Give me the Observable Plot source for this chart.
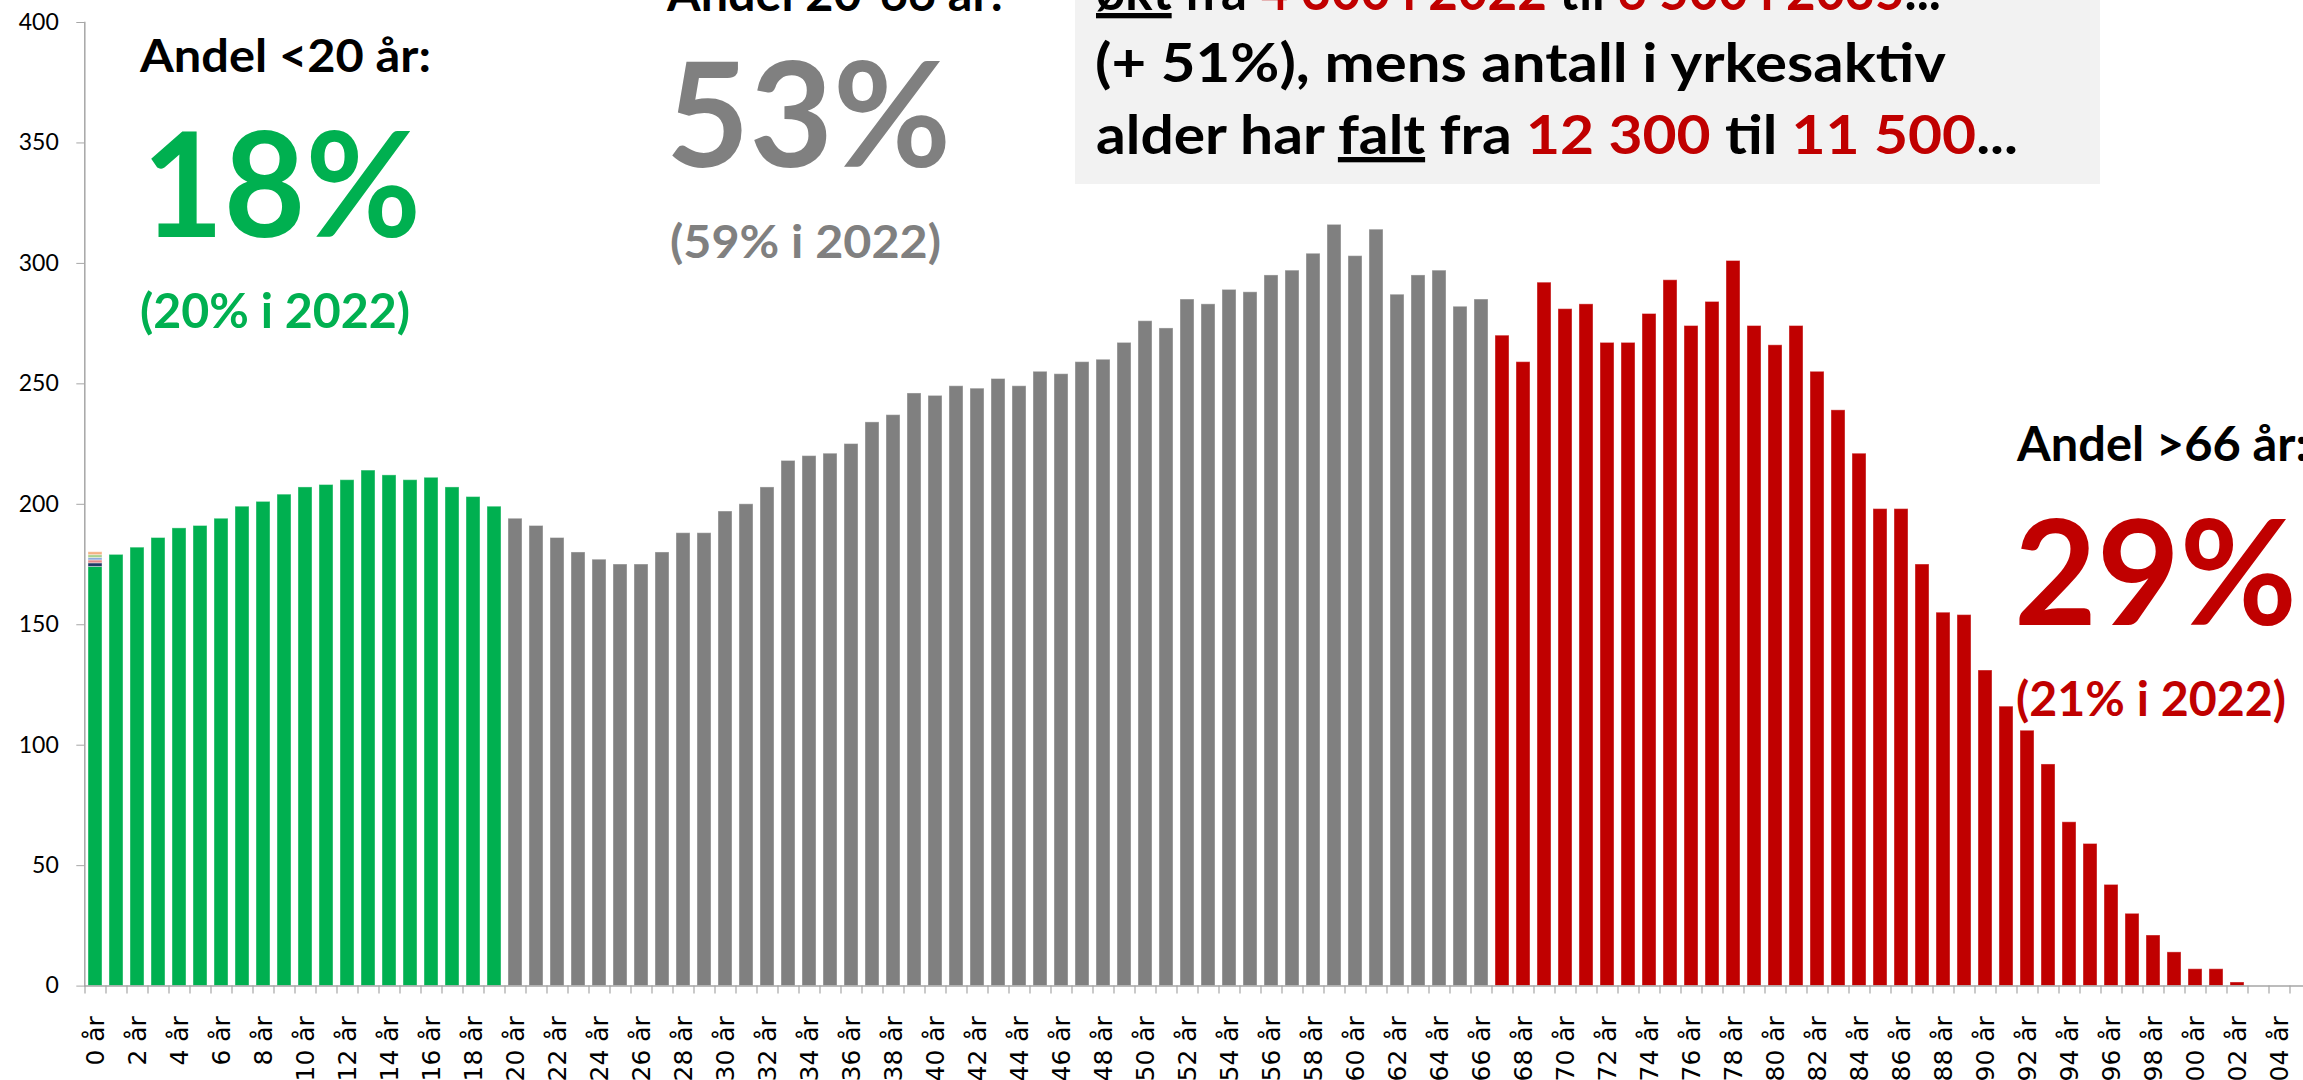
<!DOCTYPE html>
<html>
<head>
<meta charset="utf-8">
<script src="https://cdn.jsdelivr.net/npm/d3@7"></script>
<script src="https://cdn.jsdelivr.net/npm/@observablehq/plot@0.6"></script>
<style>
html, body { margin: 0; padding: 0; overflow: hidden; background: white; }
#chart svg { display: block; }
</style>
</head>
<body>
<div id="chart"></div>
<script>
// ---- Data ----
const ages = [0,1,2,3,4,5,6,7,8,9,10,11,12,13,14,15,16,17,18,19,20,21,22,23,24,25,26,27,28,29,
  30,31,32,33,34,35,36,37,38,39,40,41,42,43,44,45,46,47,48,49,50,51,52,53,54,55,56,57,58,59,
  60,61,62,63,64,65,66,67,68,69,70,71,72,73,74,75,76,77,78,79,80,81,82,83,84,85,86,87,88,89,
  90,91,92,93,94,95,96,97,98,99,100,101,102,103,104,105];

const population = [174,179,182,186,190,191,194,199,201,204,207,208,210,214,212,210,211,207,203,199,
  194,191,186,180,177,175,175,180,188,188,197,200,207,218,220,221,225,234,237,246,
  245,249,248,252,249,255,254,259,260,267,276,273,285,283,289,288,295,297,304,316,
  303,314,287,295,297,282,285,270,259,292,281,283,267,267,279,293,274,284,301,274,
  266,274,255,239,221,198,198,175,155,154,131,116,106,92,68,59,42,30,21,14,
  7,7,1.5,0,0,0];

const groupNames = ["Andel <20 år", "Andel 20-66 år", "Andel >66 år"];
const groupColors = ["#00B050", "#808080", "#C00000"];

// small extra series visible only on top of the "0 år" bar
const extraAge = 0;
const extraNames = ["Serie 2", "Serie 3", "Serie 4", "Serie 5", "Serie 6"];
const extraValues = [1.5, 1.2, 1.0, 1.2, 1.2];
const extraColors = ["#203864", "#E58A8A", "#8FAADC", "#A9D18E", "#F4B183"];

const yTicks = [0, 50, 100, 150, 200, 250, 300, 350, 400];
const labelAges = ages.filter(a => a % 2 === 0 && a <= 104);

// ---- Table ----
const colorOf = new Map([...groupNames.map((n, i) => [n, groupColors[i]]), ...extraNames.map((n, i) => [n, extraColors[i]])]);
const groupOf = a => a < 20 ? groupNames[0] : a <= 66 ? groupNames[1] : groupNames[2];
const rows = ages.map((a, i) => ({age: a, series: groupOf(a), value: population[i]}));
extraNames.forEach((n, i) => rows.push({age: extraAge, series: n, value: extraValues[i]}));

// ---- Layout ----
const W = 2303, H = 1080;
const mLeft = 84.3, mTop = 22, mBottom = 94.4;
const step = 21;
const mRight = W - (mLeft + step * ages.length); // plot area runs past the right edge (cropped)
const plotH = H - mTop - mBottom;
const tickUnits = 8 * 400 / plotH;

const chart = Plot.plot({
  width: W,
  height: H,
  marginLeft: mLeft,
  marginRight: mRight,
  marginTop: mTop,
  marginBottom: mBottom,
  style: {background: "white", fontFamily: "Lato, sans-serif", overflow: "hidden"},
  x: {type: "band", domain: ages, paddingInner: 0.35, paddingOuter: 0.175},
  y: {domain: [0, 400]},
  marks: [
    Plot.barY(rows, {x: "age", y: "value", z: "series", fill: d => colorOf.get(d.series),
      stroke: "white", strokeOpacity: 0.4, strokeWidth: 1}),
    Plot.ruleY([0], {stroke: "#A6A6A6", strokeWidth: 1.5}),
    Plot.frame({anchor: "left", stroke: "#A6A6A6", strokeWidth: 1.5}),
    Plot.ruleX(ages, {x: d => d, dx: -step / 2, y1: 0, y2: -tickUnits, stroke: "#A6A6A6", strokeWidth: 1.2}),
    Plot.axisY({ticks: yTicks, tickSize: 8, tickPadding: 18, stroke: "#A6A6A6", fill: "black",
      fontSize: 23, fontFamily: "Lato, sans-serif", label: null}),
    Plot.axisX({ticks: labelAges, tickFormat: d => `${d} år`, tickRotate: -90, tickSize: 0, tickPadding: 30,
      fill: "black", fontSize: 25, fontFamily: "DejaVu Sans, sans-serif", label: null})
  ]
});
document.getElementById("chart").append(chart);

// ---- Annotations ----
const RED = "#C00000", GREEN = "#00B050", GREY = "#808080";
const svg = d3.select(chart);
svg.append("rect").attr("x", 1075).attr("y", -10).attr("width", 1025).attr("height", 194).attr("fill", "#F2F2F2");

const notes = [
  {x: 140, y: 72, w: 291, size: 45, parts: [{t: "Andel <20 år:"}]},
  {x: 142, y: 237, w: 279, size: 145, parts: [{t: "18%", c: GREEN}]},
  {x: 140, y: 328, w: 270, size: 48, parts: [{t: "(20% i 2022)", c: GREEN}]},
  {x: 667, y: 11, w: 336, size: 47, parts: [{t: "Andel 20-66 år:"}]},
  {x: 666, y: 167, w: 285, size: 145, parts: [{t: "53%", c: GREY}]},
  {x: 670, y: 258, w: 271, size: 46, parts: [{t: "(59% i 2022)", c: GREY}]},
  {x: 2017, y: 461, w: 291, size: 47, parts: [{t: "Andel >66 år:"}]},
  {x: 2014, y: 625, w: 283, size: 145, parts: [{t: "29%", c: RED}]},
  {x: 2016, y: 716, w: 270, size: 47, parts: [{t: "(21% i 2022)", c: RED}]},
  {x: 1096, y: 10, w: 845, size: 53, parts: [{t: "økt", u: true}, {t: " fra "}, {t: "4 300 i 2022", c: RED}, {t: " til "}, {t: "6 500 i 2035", c: RED}, {t: "..."}]},
  {x: 1095, y: 82, w: 851, size: 53, parts: [{t: "(+ 51%), mens antall i yrkesaktiv"}]},
  {x: 1096, y: 154, w: 922, size: 53, parts: [{t: "alder har "}, {t: "falt", u: true}, {t: " fra "}, {t: "12 300", c: RED}, {t: " til "}, {t: "11 500", c: RED}, {t: "..."}]}
];

const g = svg.append("g").attr("font-family", "Lato, sans-serif").attr("font-weight", 700).attr("text-anchor", "start");
for (const n of notes) {
  const t = g.append("text")
    .attr("x", n.x).attr("y", n.y)
    .attr("text-anchor", "start")
    .attr("font-size", n.size)
    .attr("textLength", n.w)
    .attr("lengthAdjust", "spacingAndGlyphs");
  for (const p of n.parts) {
    const s = t.append("tspan").attr("fill", p.c || "black").text(p.t);
    if (p.u) s.style("text-decoration", "underline");
  }
}
</script>
</body>
</html>
